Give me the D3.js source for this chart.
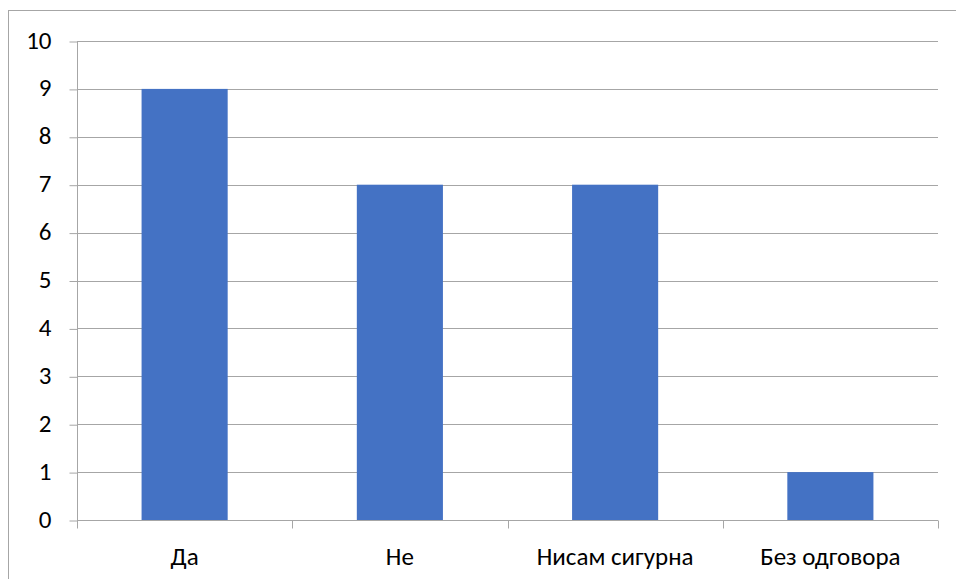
<!DOCTYPE html>
<html>
<head>
<meta charset="utf-8">
<script src="https://cdn.jsdelivr.net/npm/d3@7"></script>
<style>
  html, body { margin: 0; padding: 0; background: #fff; }
  svg { display: block; }
</style>
</head>
<body>
<svg id="chart" width="956" height="579"></svg>
<script>
// Survey answers and their counts
const categories = ["Да", "Не", "Нисам сигурна", "Без одговора"];
const counts = [9, 7, 7, 1];
const yTicks = [0, 1, 2, 3, 4, 5, 6, 7, 8, 9, 10];

const svg = d3.select("#chart");
const font = "Carlito, Lato, 'Liberation Sans', sans-serif";
const fontSize = 25;
const plotLeft = 77, plotRight = 938, plotTop = 41, plotBottom = 520;

// outer chart frame
svg.append("rect")
  .attr("x", 8.5).attr("y", 10.5)
  .attr("width", 960).attr("height", 600)
  .attr("fill", "none").attr("stroke", "#a6a6a6").attr("stroke-width", 1);

const x = d3.scaleBand().domain(categories).range([plotLeft, plotRight])
  .paddingInner(0.6).paddingOuter(0.3);
const y = d3.scaleLinear().domain([0, 10]).range([plotBottom, plotTop]);

// horizontal gridlines
svg.append("g").selectAll("line").data(yTicks.filter(d => d > 0)).join("line")
  .attr("x1", plotLeft).attr("x2", plotRight)
  .attr("y1", d => Math.round(y(d)) + 0.5).attr("y2", d => Math.round(y(d)) + 0.5)
  .attr("stroke", "#a6a6a6").attr("stroke-width", 1);

// bars
svg.append("g").selectAll("rect").data(counts).join("rect")
  .attr("x", (d, i) => x(categories[i]))
  .attr("width", x.bandwidth())
  .attr("y", d => y(d))
  .attr("height", d => y(0) - y(d))
  .attr("fill", "#4472c4");

// y axis
const yAxis = d3.axisLeft(y).tickValues(yTicks).tickSize(8).tickPadding(18)
  .tickFormat(d3.format("d"));
const gy = svg.append("g").attr("transform", `translate(${plotLeft + 0.5},0.5)`).call(yAxis);
gy.select(".domain").attr("stroke", "#a6a6a6").attr("d", `M0,${plotTop}V${plotBottom}`);
gy.selectAll(".tick line").attr("stroke", "#a6a6a6");
gy.selectAll("text").attr("font-family", font).attr("font-size", fontSize)
  .attr("fill", "#000").attr("dy", "0.26em");

// x axis with boundary ticks between categories
const xEdges = d3.scaleLinear().domain([0, 4]).range([plotLeft, plotRight]);
const gx = svg.append("g").attr("transform", `translate(0,${plotBottom + 0.5})`);
gx.append("line").attr("x1", plotLeft).attr("x2", plotRight)
  .attr("stroke", "#a6a6a6");
gx.selectAll("line.tk").data(d3.range(5)).join("line").attr("class", "tk")
  .attr("x1", d => Math.round(xEdges(d)) + 0.5).attr("x2", d => Math.round(xEdges(d)) + 0.5)
  .attr("y1", 0).attr("y2", 8).attr("stroke", "#a6a6a6");
gx.selectAll("text").data(categories).join("text")
  .attr("x", d => x(d) + x.bandwidth() / 2)
  .attr("y", 44)
  .attr("text-anchor", "middle")
  .attr("font-family", font).attr("font-size", fontSize).attr("fill", "#000")
  .text(d => d);
</script>
</body>
</html>
